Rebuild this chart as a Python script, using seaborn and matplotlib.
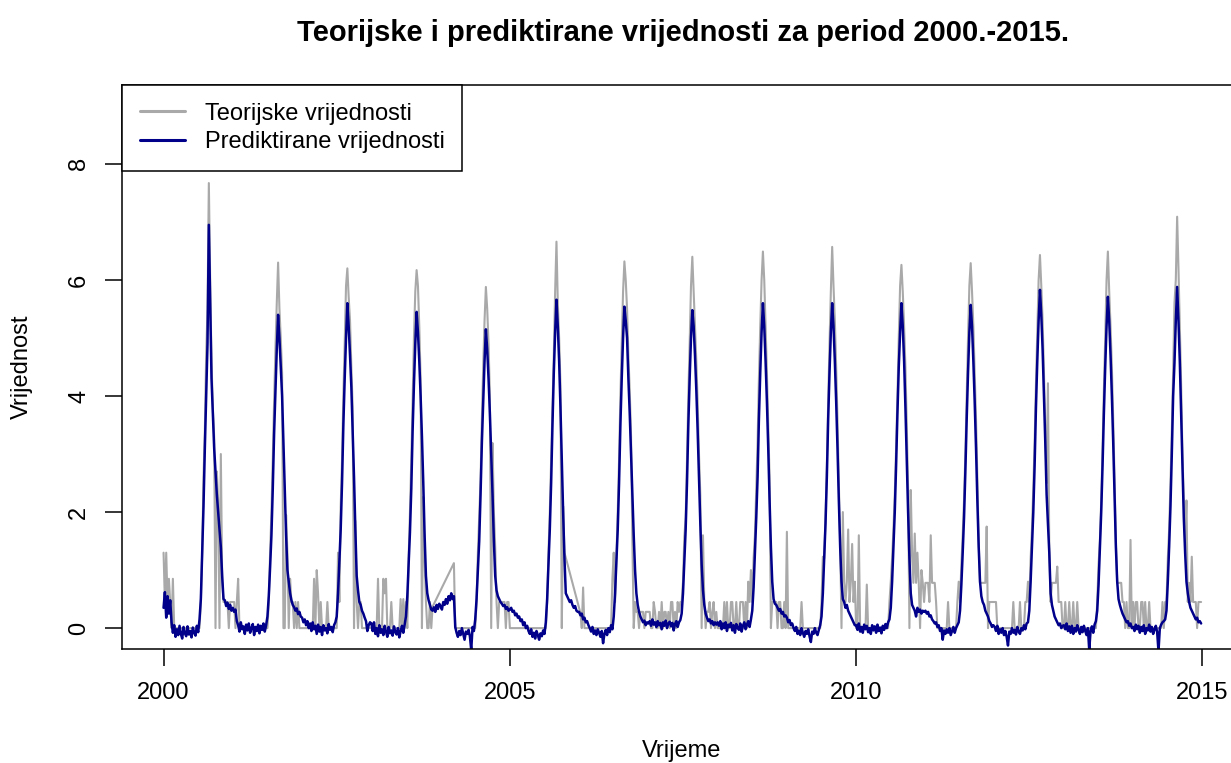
import numpy as np
import pandas as pd
import matplotlib
matplotlib.use('Agg')
import matplotlib.pyplot as plt
import seaborn as sns
from matplotlib.lines import Line2D

# Weekly values (52 per year), 2000-2014
years = list(range(2000, 2015))
weeks_per_year = 52
nan = np.nan

pred_2000 = [0.35, 0.62, 0.18, 0.55, 0.25, 0.48, 0.10,
             -0.08, 0.05, -0.15, -0.02, -0.12, 0.04, -0.10, -0.18, 0.02, -0.09,
             -0.14, 0.03, -0.11, -0.05, -0.16, 0.01, -0.08, -0.13, 0.04, -0.07,
             0.15, 0.50, 1.30, 2.10, 3.10, 4.00, 4.90,
             6.95,
             5.60, 4.30, 3.70, 3.10, 2.70, 2.30, 2.00, 1.70, 1.40, 0.90, 0.50,
             0.48, 0.38, 0.44, 0.33, 0.40, 0.30]
theo_2000 = [1.30, 0.45, 1.30, 0.45, 0.85, 0.45, 0.00,
             0.85, 0, 0, 0, 0, 0, 0, 0, 0, 0,
             0, 0, 0, 0, 0, 0, 0, 0, 0, 0,
             0.00, 0.45, 1.30, 2.60, 3.40, 4.70, 5.50,
             7.67,
             6.00, 4.60, 3.80, 3.30, 0.00, 2.70, 2.20, 0.00, 3.00, 0.85, 0.45,
             0.45, 0.45, 0.45, 0.00, 0.45, 0.45]

pred_2001 = [0.35, 0.28, 0.32, 0.12,
             0.05, -0.06, 0.10, -0.02, 0.03, -0.10, 0.06, -0.04, 0.08, -0.08,
             0.00, 0.07, -0.12, 0.02, -0.05, 0.06, -0.09, 0.04, -0.03, 0.08, -0.06, 0.05,
             0.20, 0.55, 1.05, 1.60, 2.40, 3.35, 4.10, 4.80,
             5.40,
             5.00, 4.50, 4.00, 3.20, 2.40, 1.60, 1.00, 0.80, 0.60, 0.48, 0.40, 0.36,
             0.30, 0.34, 0.24, 0.28, 0.20]
theo_2001 = [0.45, 0.45, 0.00, 0.45,
             0.85, 0, 0, 0, 0, 0, 0, 0, 0, 0,
             0, 0, 0, 0, 0, 0, 0, 0, 0, 0, 0, 0,
             0.00, 0.45, 1.30, 2.00, 2.90, 3.90, 4.80, 5.60,
             6.30,
             5.50, 5.00, 4.40, 0.00, 0.00, 1.95, 1.30, 0.00, 0.85, 0.45, 0.45, 0.00,
             0.45, 0.00, 0.45, 0.00, 0.00]

pred_2002 = [0.18, 0.10, 0.15, 0.05, 0.12, 0.00, 0.08, -0.05, 0.10, -0.02,
             0.04, -0.10, 0.06, -0.06, 0.02, -0.12, 0.05, -0.04, 0.00, -0.09,
             0.07, -0.03, 0.02, -0.07, 0.05, 0.10,
             0.20, 0.60, 1.15, 1.70, 2.50, 3.50, 4.30, 5.00,
             5.60,
             5.20, 4.70, 4.15, 3.40, 2.60, 1.70, 0.90, 0.65, 0.45, 0.40, 0.30, 0.25,
             0.18, 0.12, -0.05, 0.05, 0.10]
theo_2002 = [0, 0, 0, 0, 0, 0, 0, 0, 0, 0.85,
             0, 1.00, 0.60, 0, 0.45, 0, 0, 0, 0, 0.45,
             0, 0, 0, 0, 0, 0,
             0.00, 1.30, 0.45, 2.10, 2.90, 4.00, 4.90, 5.90,
             6.20,
             5.70, 5.30, 4.50, 3.80, 0.00, 1.85, 0.45, 0.00, 0.45, 0.45, 0.00, 0.00,
             0, 0, 0, 0, 0]

pred_2003 = [0.08, -0.05, 0.10, -0.10, 0.00, -0.14, 0.05, -0.08, -0.02, -0.12,
             0.04, -0.06, -0.15, 0.02, -0.09, -0.04, -0.13, 0.03, -0.07, -0.11,
             0.00, -0.16, -0.05, 0.04, -0.08, 0.06,
             0.20, 0.55, 1.10, 1.65, 2.40, 3.40, 4.20, 4.90,
             5.45,
             5.10, 4.60, 4.00, 3.30, 2.50, 1.60, 0.90, 0.60, 0.48, 0.40, 0.32,
             0.30, 0.36, 0.28, 0.40, 0.33, 0.42]
theo_2003 = [0, 0, 0, 0, 0, 0.85, 0, 0, 0, 0.85,
             0.60, 0.85, 0, 0, 0, 0.45, 0, 0, 0, 0,
             0, 0, 0.50, 0, 0.50, 0,
             0.45, 0.00, 1.20, 2.00, 2.90, 3.90, 5.00, 5.80,
             6.17,
             5.90, 5.20, 4.30, 0.00, 2.26, 1.20, 0.45, 0.00, 0.00, 0.45, 0.00,
             0.37, nan, nan, nan, nan, nan]

pred_2004 = [0.38, 0.32, 0.45, 0.40, 0.50, 0.42, 0.55, 0.48, 0.60, 0.50, 0.55,
             0.02, -0.08, -0.15, -0.05, -0.12, 0.00, -0.10, -0.20, -0.06, -0.10,
             -0.03, -0.14, -0.38, 0.02, -0.05,
             0.15, 0.50, 1.00, 1.50, 2.30, 3.20, 3.90, 4.60,
             5.15,
             4.80, 4.30, 3.70, 3.00, 2.30, 1.50, 0.90, 0.65, 0.55, 0.50, 0.45,
             0.42, 0.38, 0.40, 0.33, 0.36, 0.30]
theo_2004 = [nan, nan, nan, nan, nan, nan, nan, nan, nan, nan, 1.12,
             0, 0, 0, 0, 0, 0, 0, 0, 0, 0,
             0, 0, 0, 0, 0,
             0.00, 0.45, 1.30, 1.90, 2.55, 3.60, 4.50, 5.30,
             5.88,
             5.50, 4.90, 4.00, 0.00, 3.19, 2.00, 1.40, 0.45, 0.00, 0.45, 0.45,
             0.45, 0.45, 0.45, 0.00, 0.45, 0.45]

pred_2005 = [0.32, 0.35, 0.28, 0.30, 0.22, 0.25, 0.18, 0.20, 0.12, 0.15,
             0.05, 0.10, 0.00, 0.04, -0.05,
             -0.10, -0.02, -0.15, -0.08, -0.18, -0.05, -0.12, -0.20, -0.09, -0.14, -0.04, -0.10,
             0.10, 0.50, 1.10, 1.70, 2.50, 3.50, 4.40, 5.10,
             5.66,
             5.20, 4.60, 3.80, 2.90, 2.00, 1.20,
             0.60, 0.55, 0.50, 0.45, 0.48, 0.40, 0.35, 0.38, 0.30, 0.28]
theo_2005 = [0, 0, 0, 0, 0, 0, 0, 0, 0, 0,
             0, 0, 0, 0, 0,
             0, 0, 0, 0, 0, 0, 0, 0, 0, 0, 0, 0,
             0.00, 0.45, 1.30, 2.00, 2.90, 3.80, 4.70, 5.80,
             6.66,
             5.60, 5.00, 4.20, 0.00, 2.10, 1.30,
             nan, nan, nan, nan, nan, nan, nan, nan, nan, nan]

pred_2006 = [0.28, 0.22, 0.25, 0.15, 0.18, 0.10, 0.12, 0.05, 0.00, -0.06,
             0.02, -0.10, -0.04, -0.12, -0.02, -0.08, -0.15, -0.05, -0.26, -0.10,
             -0.03, -0.12, 0.00, -0.07, 0.05, -0.02,
             0.20, 0.60, 1.15, 1.70, 2.50, 3.50, 4.30, 5.00,
             5.54,
             5.30, 5.00, 4.30, 3.70, 3.00, 2.30, 1.60, 1.00, 0.60, 0.40, 0.28, 0.20,
             0.15, 0.10, 0.13, 0.05, 0.10]
theo_2006 = [nan, 0.26, 0.00, 0.70, 0, 0, 0, 0, 0, 0,
             0, 0, 0, 0, 0, 0, 0, 0, 0, 0,
             0, 0, 0, 0, 0, 0.85,
             1.30, 0.45, 1.20, 2.00, 2.90, 4.00, 4.90, 5.80,
             6.32,
             6.00, 5.50, 4.70, 4.10, 3.30, 1.50, 0.00, 0.45, 0.28, 0.28, 0.00, 0.28,
             0.28, 0.28, 0.00, 0.28, 0.28]

pred_2007 = [0.08, 0.12, 0.04, 0.15, 0.06, 0.10, 0.02, 0.12, 0.05, 0.09,
             -0.02, 0.10, 0.04, 0.13, 0.00, 0.08, 0.11, 0.03, 0.09, -0.04,
             0.07, 0.12, 0.02, 0.10, 0.14,
             0.25, 0.60, 1.15, 1.70, 2.50, 3.50, 4.30, 5.00,
             5.48,
             5.20, 4.70, 4.10, 3.40, 2.60, 1.80, 1.10, 0.65, 0.40, 0.25, 0.18, 0.12,
             0.15, 0.08, 0.12, 0.05, 0.10, 0.06]
theo_2007 = [0.28, 0.28, 0, 0, 0.45, 0.28, 0, 0, 0.28, 0,
             0.45, 0, 0.28, 0.28, 0, 0.28, 0, 0.45, 0.45, 0,
             0.28, 0, 0.45, 0.28, 0.45,
             0.45, 0.80, 1.57, 1.90, 2.90, 4.00, 4.90, 5.90,
             6.40,
             5.80, 5.20, 4.60, 3.90, 3.00, 2.30, 0.00, 1.60, 0.45, 0.00, 0.28, 0.28,
             0.45, 0, 0.28, 0.45, 0, 0.28]

pred_2008 = [0.10, 0.04, 0.12, -0.02, 0.08, 0.00, 0.10, -0.05, 0.06, 0.02,
             0.09, -0.04, 0.05, -0.08, 0.07, 0.01, -0.03, 0.08, -0.06, 0.04,
             0.10, -0.02, 0.06, 0.12, 0.02, 0.15,
             0.30, 0.70, 1.30, 1.90, 2.60, 3.60, 4.40, 5.10,
             5.60,
             5.20, 4.60, 3.90, 3.10, 2.20, 1.40, 0.80, 0.50, 0.42, 0.40, 0.35,
             0.30, 0.33, 0.25, 0.28, 0.20, 0.22]
theo_2008 = [0, 0, 0, 0, 0, 0.45, 0, 0.45, 0, 0,
             0.45, 0.45, 0, 0, 0.45, 0, 0, 0.45, 0.45, 0.45,
             0, 0.45, 0, 0.80, 0.45, 1.00,
             0.45, 1.20, 1.60, 2.40, 3.20, 4.30, 5.20, 6.00,
             6.49,
             6.00, 5.20, 4.40, 3.50, 2.60, 0.00, 0.45, 0.45, 0.45, 0.45, 0.00,
             0.45, 0.45, 0, 0, 0.45, 0]

pred_2009 = [0.18, 0.10, 0.14, 0.05, 0.08, 0.00, -0.05, 0.02, -0.10, -0.04,
             -0.12, 0.00, -0.08, -0.15, -0.05, -0.10, -0.02, -0.14, -0.24, -0.06,
             -0.10, 0.00, -0.08, -0.12, -0.03, 0.05,
             0.20, 0.60, 1.20, 1.80, 2.60, 3.60, 4.40, 5.10,
             5.60,
             5.20, 4.60, 3.90, 3.10, 2.20, 1.40, 0.80, 0.50, 0.45, 0.35, 0.40,
             0.30, 0.25, 0.20, 0.15, 0.10, 0.05]
theo_2009 = [1.66, 0, 0, 0, 0, 0, 0, 0, 0, 0,
             0, 0.45, 0, 0, 0, 0, 0, 0, 0, 0,
             0, 0, 0, 0, 0, 0,
             0.45, 1.23, 1.20, 1.90, 2.80, 3.90, 4.90, 5.80,
             6.57,
             5.90, 5.30, 4.50, 3.60, 2.50, 1.50, 0.00, 2.00, 0.80, 0.45, 0.80,
             1.70, 0.45, 0.80, 1.45, 0.45, 0.80]

pred_2010 = [0.05, -0.03, 0.08, -0.06, 0.02, -0.08, 0.06, -0.02, 0.04, -0.07,
             0.00, -0.10, 0.05, -0.04, 0.03, -0.08, 0.06, -0.05, 0.01, -0.09,
             0.04, -0.03, 0.07, 0.00, 0.10, 0.15,
             0.35, 0.80, 1.40, 2.00, 2.80, 3.70, 4.50, 5.10,
             5.60,
             5.20, 4.60, 3.80, 2.90, 2.00, 1.20, 0.60, 0.40, 0.35, 0.30, 0.20,
             0.35, 0.28, 0.32, 0.25, 0.30, 0.28]
theo_2010 = [0, 0, 1.60, 0, 0, 0, 0, 0, 0.75, 0,
             0, 0, 0, 0, 0, 0, 0, 0, 0, 0,
             0, 0, 0, 0, 0, 0.45,
             0.80, 1.20, 1.70, 2.30, 3.10, 4.00, 5.00, 5.90,
             6.26,
             5.80, 5.20, 4.50, 3.50, 2.40, 0.00, 2.38, 1.30, 0.78, 1.63, 0.78,
             1.30, 0.78, 0.00, 1.00, 0.78, 0.45]

pred_2011 = [0.30, 0.25, 0.28, 0.20, 0.22, 0.15, 0.12, 0.08, 0.10, 0.02,
             0.05, -0.05, 0.00, -0.20, -0.04, -0.10, -0.02, -0.08, 0.00, -0.12,
             -0.05, 0.02, -0.08, 0.00, 0.05, 0.10,
             0.30, 0.75, 1.30, 1.90, 2.70, 3.60, 4.40, 5.10,
             5.57,
             5.20, 4.60, 3.90, 3.10, 2.20, 1.40, 0.80, 0.55, 0.45, 0.40, 0.30,
             0.25, 0.20, 0.12, 0.08, 0.02, 0.05]
theo_2011 = [0.78, 0.78, 0.78, 0.45, 1.60, 0.78, 0.78, 0.78, 0.45, 0,
             0, 0, 0, 0, 0, 0, 0, 0.45, 0, 0,
             0, 0, 0, 0, 0.45, 0.80,
             0.45, 1.10, 1.60, 2.20, 3.00, 4.00, 5.00, 5.90,
             6.29,
             5.80, 5.20, 4.40, 3.60, 2.60, 1.50, 0.78, 0.78, 0.78, 0.78, 0.78,
             1.75, 0.00, 0.45, 0.45, 0.45, 0.45]

pred_2012 = [0.02, -0.05, 0.04, -0.10, -0.02, -0.08, 0.00, -0.12, -0.05, -0.15,
             -0.30, -0.06, -0.10, 0.00, -0.08, -0.03, -0.11, 0.02, -0.06, -0.10,
             0.00, -0.04, 0.05, -0.02, 0.08, 0.10,
             0.30, 0.80, 1.40, 2.00, 2.80, 3.80, 4.60, 5.30,
             5.83,
             5.40, 4.80, 4.00, 3.20, 2.30, 1.80, 1.30, 0.60, 0.40, 0.30, 0.20,
             0.15, 0.10, 0.05, 0.08, 0.00, 0.04]
theo_2012 = [0.45, 0.45, 0, 0, 0, 0, 0, 0, 0, 0,
             0, 0, 0, 0, 0.45, 0, 0, 0, 0, 0.45,
             0, 0, 0, 0.45, 0.45, 0.80,
             0.45, 1.20, 1.70, 2.40, 3.20, 4.20, 5.10, 6.00,
             6.43,
             5.90, 5.30, 4.40, 3.50, 2.50, 4.22, 1.40, 0.45, 0.78, 0.78, 0.78,
             0.78, 1.06, 0.45, 0.45, 0.45, 0.00]

pred_2013 = [0.05, -0.02, 0.08, -0.05, 0.03, -0.08, 0.04, -0.10, 0.00, -0.06,
             0.05, -0.03, -0.10, 0.02, -0.07, 0.04, -0.05, -0.12, 0.00, -0.38,
             -0.05, 0.03, -0.08, 0.06, 0.12,
             0.30, 0.75, 1.35, 2.00, 2.80, 3.70, 4.50, 5.20,
             5.71,
             5.30, 4.70, 4.00, 3.20, 2.30, 1.40, 0.80, 0.50, 0.40, 0.32, 0.25, 0.20,
             0.15, 0.10, 0.12, 0.04, 0.08, 0.00]
theo_2013 = [0, 0.45, 0, 0, 0.45, 0, 0, 0.45, 0, 0,
             0.45, 0, 0, 0, 0, 0, 0, 0, 0, 0,
             0, 0, 0, 0, 0,
             0.45, 1.10, 1.50, 2.20, 3.10, 4.10, 5.00, 6.00,
             6.49,
             5.80, 5.20, 4.50, 3.60, 2.60, 1.50, 0.78, 0.78, 0.78, 0.78, 0.45, 0.45,
             0.00, 0.45, 0.00, 0.00, 1.52, 0.00]

pred_2014 = [0.02, -0.05, 0.06, -0.02, 0.04, -0.08, 0.02, -0.05, 0.05, -0.10,
             0.00, -0.04, 0.06, -0.06, 0.02, -0.10, -0.02, 0.04, -0.07, -0.40,
             0.00, 0.06, 0.10, 0.12, 0.15,
             0.30, 0.80, 1.40, 2.10, 3.00, 4.00, 4.57, 5.30,
             5.88,
             5.30, 4.60, 3.70, 2.80, 1.90, 1.30, 0.80, 0.60, 0.45, 0.35, 0.30, 0.25,
             0.20, 0.15, 0.18, 0.10, 0.12, 0.08]
theo_2014 = [0.45, 0, 0.45, 0.45, 0, 0, 0.45, 0.45, 0, 0.45,
             0, 0, 0.45, 0, 0, 0, 0, 0, 0, 0,
             0, 0, 0.45, 0, 0.45,
             0.45, 1.20, 1.70, 2.50, 3.40, 4.40, 5.60, 6.00,
             7.09,
             6.20, 5.20, 4.20, 3.00, 2.20, 1.50, 2.20, 0.45, 0.78, 0.45, 1.23, 0.45,
             0.45, 0.45, 0.00, 0.45, 0.45, 0.45]

predicted = [pred_2000, pred_2001, pred_2002, pred_2003, pred_2004, pred_2005,
             pred_2006, pred_2007, pred_2008, pred_2009, pred_2010, pred_2011,
             pred_2012, pred_2013, pred_2014]
theoretical = [theo_2000, theo_2001, theo_2002, theo_2003, theo_2004, theo_2005,
               theo_2006, theo_2007, theo_2008, theo_2009, theo_2010, theo_2011,
               theo_2012, theo_2013, theo_2014]

rows = []
for year, p_vals, t_vals in zip(years, predicted, theoretical):
    assert len(p_vals) == weeks_per_year, ('pred', year, len(p_vals))
    assert len(t_vals) == weeks_per_year, ('theo', year, len(t_vals))
    for week in range(weeks_per_year):
        rows.append((year + week / weeks_per_year, p_vals[week], t_vals[week]))
df = pd.DataFrame(rows, columns=['Vrijeme', 'Prediktirane', 'Teorijske'])

sns.set_theme(style='white')
plt.rcParams['font.family'] = ['Liberation Sans', 'DejaVu Sans']
plt.rcParams['text.color'] = 'black'

fig = plt.figure(figsize=(12.31, 7.63), dpi=100)
ax = fig.add_axes([122 / 1231, 114 / 763, 1122 / 1231, 564 / 763])

# gaps in the theoretical series are bridged by a straight segment, like in the original
theo = df[['Vrijeme', 'Teorijske']].dropna()
sns.lineplot(data=theo, x='Vrijeme', y='Teorijske', ax=ax, color='#A9A9A9',
             linewidth=1.5, estimator=None, errorbar=None)
sns.lineplot(data=df, x='Vrijeme', y='Prediktirane', ax=ax, color='#00008B',
             linewidth=1.8, estimator=None, errorbar=None)

ax.set_xlim(1999.4, 2015.6)
ax.set_ylim(-0.36, 9.36)
ax.set_xticks([2000, 2005, 2010, 2015])
ax.set_xticklabels(['2000', '2005', '2010', '2015'])
ax.set_yticks([0, 2, 4, 6, 8])
ax.set_yticklabels(['0', '2', '4', '6', '8'], rotation=90, va='center')
ax.tick_params(axis='both', which='major', bottom=True, left=True, direction='out',
               length=12, width=1.1, color='black', labelcolor='black', labelsize=17)
ax.tick_params(axis='x', pad=11.5)
ax.tick_params(axis='y', pad=11)
for spine in ax.spines.values():
    spine.set_color('black')
    spine.set_linewidth(1.1)

ax.set_xlabel('Vrijeme', fontsize=17, color='black')
ax.set_ylabel('Vrijednost', fontsize=17, color='black')
ax.xaxis.set_label_coords(0.4987, -0.18)
ax.xaxis.label.set_va('center')
ax.yaxis.set_label_coords(-0.0891, 0.5)
ax.yaxis.label.set_va('center')

ax.set_title('Teorijske i prediktirane vrijednosti za period 2000.-2015.',
             fontsize=21, fontweight='bold', pad=32, color='black')

handles = [Line2D([], [], color='#A9A9A9', lw=2.2),
           Line2D([], [], color='#00008B', lw=2.2)]
leg = ax.legend(handles, ['Teorijske vrijednosti', 'Prediktirane vrijednosti'],
                loc='upper left', borderaxespad=0, fancybox=False, edgecolor='black',
                framealpha=1, fontsize=17, handlelength=1.9, handletextpad=0.85,
                borderpad=0.75, labelspacing=0.27, labelcolor='black')
leg.get_frame().set_linewidth(1.1)

fig.savefig('out.png', dpi=100)
